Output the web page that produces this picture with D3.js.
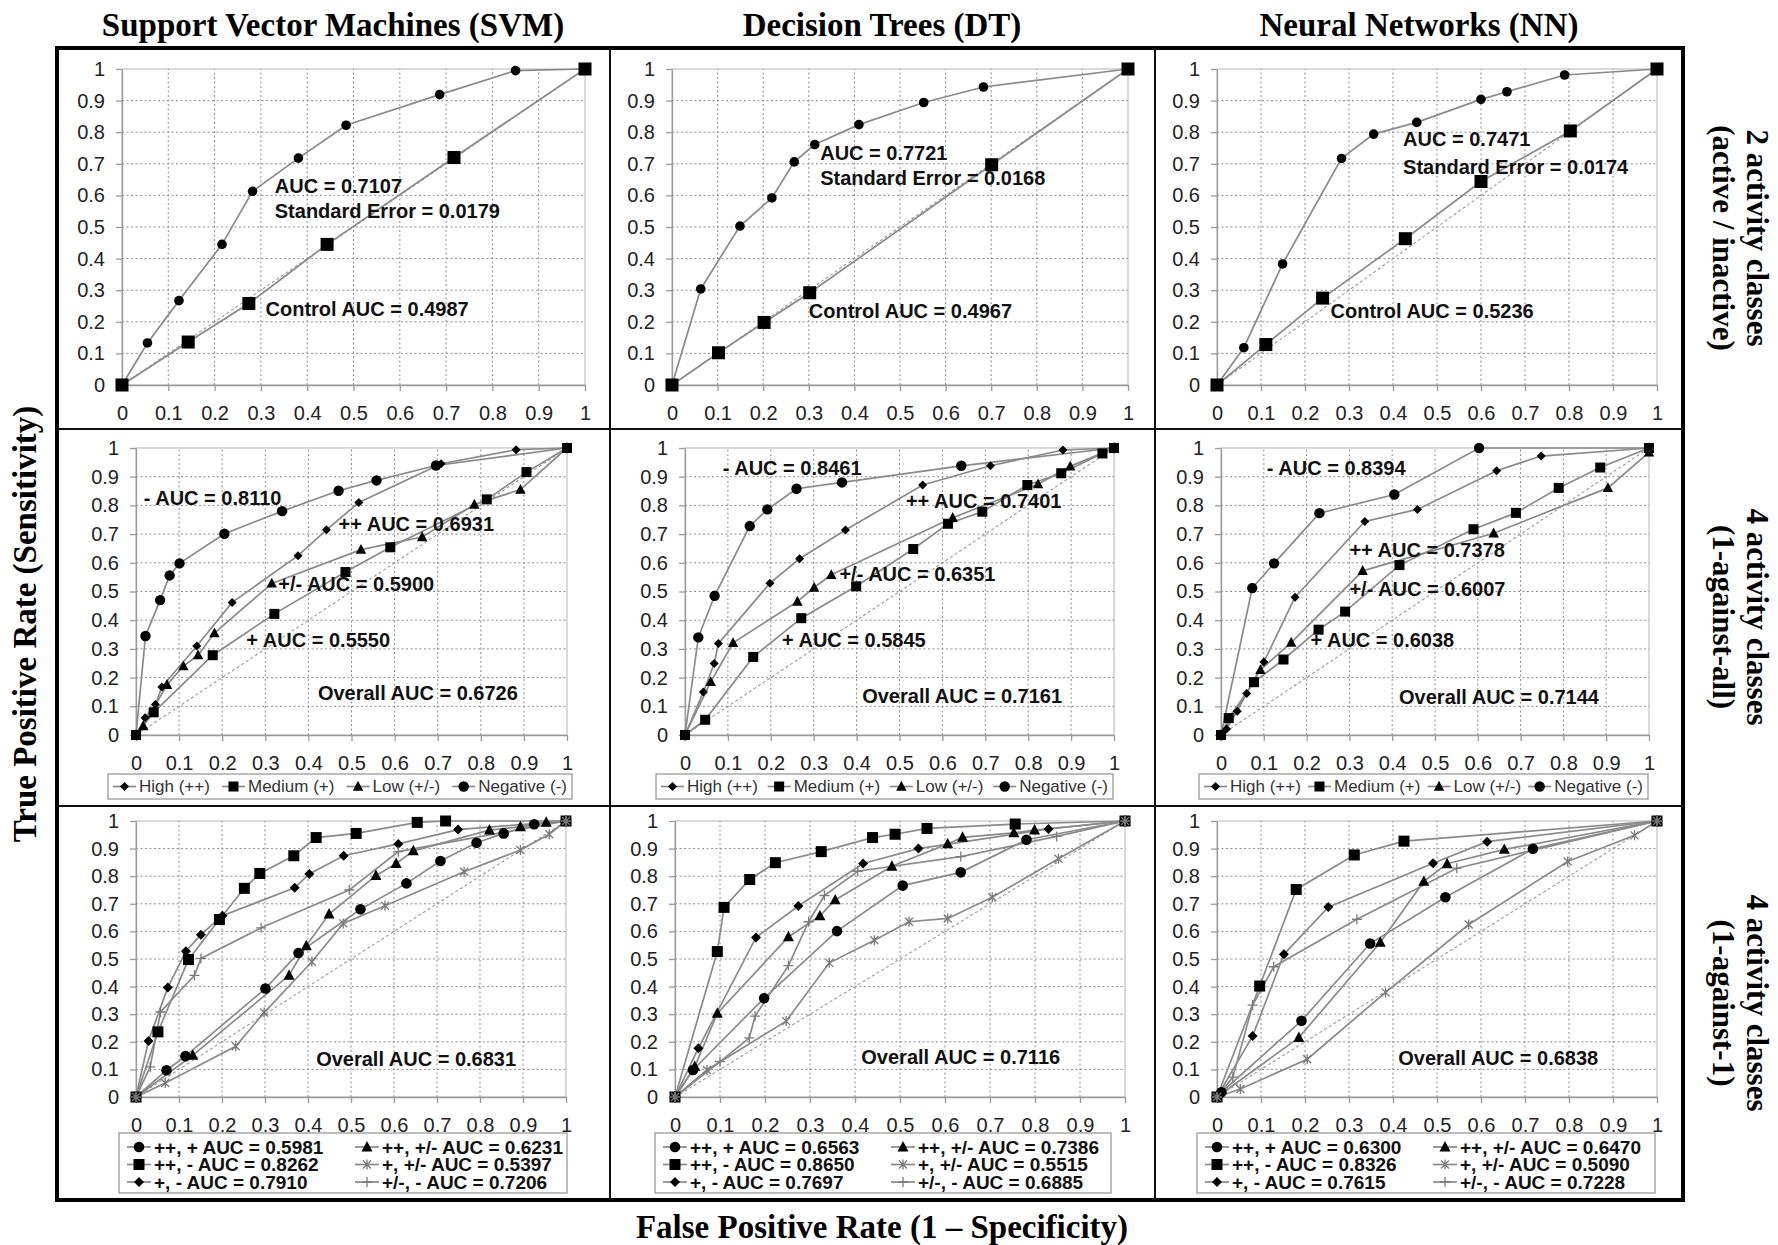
<!DOCTYPE html>
<html>
<head>
<meta charset="utf-8">
<script src="https://cdn.jsdelivr.net/npm/d3@7"></script>
<style>
  body { margin: 0; background: #fff; }
  svg text { font-family: "Liberation Sans", Arial, sans-serif; }
  .title { font-family: "Liberation Serif", "Times New Roman", serif; font-weight: bold; font-size: 33px; fill: #000; }
  .side { font-size: 31px; }
</style>
</head>
<body>
<svg id="chart" width="1778" height="1245"></svg>
<script>
// ---- text ----
const colTitles = ['Support Vector Machines (SVM)', 'Decision Trees (DT)', 'Neural Networks (NN)']
const rowTitles = [['2 activity classes', '(active / inactive)'], ['4 activity classes', '(1-against-all)'], ['4 activity classes', '(1-against-1)']]
const yTitle = 'True Positive Rate (Sensitivity)'
const xTitle = 'False Positive Rate (1 \u2013 Specificity)'
const classNames = ['High (++)', 'Medium (+)', 'Low (+/-)', 'Negative (-)']
const classShort = ['++', '+', '+/-', '-']
const pairNames = ['++, +', '++, -', '+, -', '++, +/-', '+, +/-', '+/-, -']
const tickValues = [0, 0.1, 0.2, 0.3, 0.4, 0.5, 0.6, 0.7, 0.8, 0.9, 1]

// ---- AUC values ----
const binAuc = [0.7107, 0.7721, 0.7471]
const binStdErr = [0.0179, 0.0168, 0.0174]
const binControlAuc = [0.4987, 0.4967, 0.5236]
const svmAllAuc = [0.6931, 0.5550, 0.5900, 0.8110]
const dtAllAuc = [0.7401, 0.5845, 0.6351, 0.8461]
const nnAllAuc = [0.7378, 0.6038, 0.6007, 0.8394]
const overallAllAuc = [0.6726, 0.7161, 0.7144]
const svmPairAuc = [0.5981, 0.8262, 0.7910, 0.6231, 0.5397, 0.7206]
const dtPairAuc = [0.6563, 0.8650, 0.7697, 0.7386, 0.5515, 0.6885]
const nnPairAuc = [0.6300, 0.8326, 0.7615, 0.6470, 0.5090, 0.7228]
const overallPairAuc = [0.6831, 0.7116, 0.6838]

// ---- ROC points [fpr, tpr] ----
// 2 classes
const svmBinModel = [[0, 0], [0.055, 0.133], [0.123, 0.267], [0.216, 0.445], [0.282, 0.613], [0.381, 0.718], [0.484, 0.822], [0.686, 0.919], [0.85, 0.995], [1, 1]]
const svmBinControl = [[0, 0], [0.143, 0.136], [0.274, 0.258], [0.443, 0.445], [0.717, 0.72], [1, 1]]
const dtBinModel = [[0, 0], [0.063, 0.304], [0.149, 0.503], [0.219, 0.592], [0.268, 0.706], [0.313, 0.761], [0.41, 0.824], [0.552, 0.894], [0.683, 0.943], [1, 1]]
const dtBinControl = [[0, 0], [0.102, 0.102], [0.202, 0.198], [0.302, 0.292], [0.701, 0.697], [1, 1]]
const nnBinModel = [[0, 0], [0.061, 0.118], [0.149, 0.383], [0.283, 0.717], [0.356, 0.794], [0.454, 0.831], [0.6, 0.904], [0.659, 0.928], [0.79, 0.981], [1, 1]]
const nnBinControl = [[0, 0], [0.111, 0.128], [0.24, 0.275], [0.428, 0.463], [0.6, 0.644], [0.803, 0.804], [1, 1]]

// 1-against-all
const svmAllHigh = [[0, 0], [0.021, 0.06], [0.045, 0.106], [0.06, 0.167], [0.141, 0.31], [0.223, 0.462], [0.376, 0.625], [0.442, 0.715], [0.517, 0.81], [0.708, 0.945], [0.882, 0.994], [1, 1]]
const svmAllMedium = [[0, 0], [0.041, 0.079], [0.178, 0.278], [0.321, 0.422], [0.486, 0.568], [0.59, 0.654], [0.814, 0.821], [0.906, 0.916], [1, 1]]
const svmAllLow = [[0, 0], [0.017, 0.031], [0.072, 0.175], [0.11, 0.24], [0.144, 0.278], [0.182, 0.355], [0.315, 0.528], [0.522, 0.646], [0.664, 0.69], [0.785, 0.803], [0.892, 0.855], [1, 1]]
const svmAllNegative = [[0, 0], [0.022, 0.345], [0.056, 0.47], [0.078, 0.556], [0.101, 0.598], [0.205, 0.701], [0.339, 0.78], [0.47, 0.851], [0.558, 0.887], [0.696, 0.939], [1, 1]]

const dtAllHigh = [[0, 0], [0.043, 0.15], [0.068, 0.249], [0.078, 0.319], [0.198, 0.529], [0.267, 0.614], [0.374, 0.714], [0.554, 0.871], [0.712, 0.938], [0.881, 0.993], [1, 1]]
const dtAllMedium = [[0, 0], [0.047, 0.053], [0.159, 0.272], [0.271, 0.407], [0.399, 0.518], [0.532, 0.648], [0.613, 0.736], [0.693, 0.778], [0.798, 0.871], [0.877, 0.912], [0.973, 0.981], [1, 1]]
const dtAllLow = [[0, 0], [0.06, 0.185], [0.112, 0.321], [0.262, 0.465], [0.301, 0.514], [0.341, 0.558], [0.624, 0.757], [0.823, 0.874], [0.898, 0.936], [1, 1]]
const dtAllNegative = [[0, 0], [0.031, 0.34], [0.069, 0.485], [0.151, 0.728], [0.192, 0.786], [0.26, 0.858], [0.366, 0.88], [0.644, 0.938], [1, 1]]

const nnAllHigh = [[0, 0], [0.013, 0.021], [0.038, 0.083], [0.06, 0.145], [0.1, 0.254], [0.173, 0.48], [0.336, 0.744], [0.459, 0.786], [0.644, 0.921], [0.748, 0.972], [1, 1]]
const nnAllMedium = [[0, 0], [0.018, 0.059], [0.077, 0.184], [0.146, 0.263], [0.228, 0.367], [0.29, 0.43], [0.417, 0.592], [0.59, 0.717], [0.689, 0.774], [0.789, 0.861], [0.886, 0.932], [1, 1]]
const nnAllLow = [[0, 0], [0.092, 0.227], [0.164, 0.322], [0.331, 0.572], [0.637, 0.703], [0.904, 0.861], [1, 0.985]]
const nnAllNegative = [[0, 0], [0.073, 0.512], [0.124, 0.598], [0.23, 0.773], [0.405, 0.838], [0.603, 1], [1, 1]]

// 1-against-1
const svmPairHM = [[0, 0], [0.071, 0.097], [0.115, 0.148], [0.301, 0.393], [0.378, 0.522], [0.522, 0.68], [0.629, 0.774], [0.708, 0.855], [0.792, 0.921], [0.855, 0.955], [0.926, 0.988], [1, 1]]
const svmPairHN = [[0, 0], [0.051, 0.236], [0.122, 0.498], [0.194, 0.643], [0.252, 0.756], [0.288, 0.81], [0.367, 0.874], [0.419, 0.94], [0.512, 0.955], [0.654, 0.995], [0.72, 1], [1, 1]]
const svmPairMN = [[0, 0], [0.029, 0.203], [0.074, 0.397], [0.116, 0.528], [0.151, 0.588], [0.201, 0.657], [0.369, 0.758], [0.403, 0.808], [0.483, 0.874], [0.61, 0.917], [0.749, 0.969], [1, 1]]
const svmPairHL = [[0, 0], [0.132, 0.151], [0.356, 0.441], [0.396, 0.548], [0.449, 0.663], [0.558, 0.802], [0.605, 0.846], [0.645, 0.892], [0.822, 0.967], [0.894, 0.979], [0.954, 0.995], [1, 1]]
const svmPairML = [[0, 0], [0.068, 0.051], [0.232, 0.184], [0.298, 0.306], [0.409, 0.49], [0.482, 0.629], [0.579, 0.693], [0.763, 0.816], [0.894, 0.895], [0.961, 0.952], [1, 1]]
const svmPairLN = [[0, 0], [0.033, 0.109], [0.057, 0.308], [0.136, 0.441], [0.151, 0.502], [0.291, 0.613], [0.496, 0.75], [0.61, 0.889], [1, 1]]

const dtPairHM = [[0, 0], [0.04, 0.098], [0.198, 0.358], [0.36, 0.601], [0.506, 0.766], [0.635, 0.814], [0.781, 0.932], [1, 1]]
const dtPairHN = [[0, 0], [0.094, 0.527], [0.109, 0.687], [0.166, 0.788], [0.223, 0.849], [0.325, 0.889], [0.439, 0.94], [0.489, 0.952], [0.56, 0.973], [0.756, 0.989], [1, 1]]
const dtPairMN = [[0, 0], [0.052, 0.177], [0.18, 0.578], [0.274, 0.692], [0.418, 0.846], [0.541, 0.9], [0.83, 0.971], [1, 1]]
const dtPairHL = [[0, 0], [0.044, 0.11], [0.094, 0.303], [0.252, 0.58], [0.322, 0.656], [0.356, 0.714], [0.482, 0.836], [0.606, 0.917], [0.639, 0.941], [0.753, 0.957], [0.799, 0.967], [1, 1]]
const dtPairML = [[0, 0], [0.071, 0.098], [0.247, 0.275], [0.343, 0.486], [0.443, 0.568], [0.52, 0.635], [0.606, 0.647], [0.705, 0.724], [0.852, 0.863], [1, 1]]
const dtPairLN = [[0, 0], [0.1, 0.128], [0.165, 0.214], [0.178, 0.293], [0.252, 0.476], [0.297, 0.635], [0.332, 0.73], [0.406, 0.818], [0.635, 0.871], [0.848, 0.944], [1, 1]]

const nnPairHM = [[0, 0], [0.01, 0.017], [0.192, 0.276], [0.348, 0.556], [0.519, 0.724], [0.718, 0.899], [1, 1]]
const nnPairHN = [[0, 0], [0.097, 0.402], [0.18, 0.752], [0.312, 0.877], [0.425, 0.927], [1, 1]]
const nnPairMN = [[0, 0], [0.081, 0.221], [0.152, 0.517], [0.253, 0.688], [0.491, 0.847], [0.614, 0.925], [1, 1]]
const nnPairHL = [[0, 0], [0.186, 0.215], [0.371, 0.56], [0.47, 0.781], [0.523, 0.845], [0.653, 0.897], [1, 1]]
const nnPairML = [[0, 0], [0.053, 0.029], [0.205, 0.137], [0.383, 0.379], [0.572, 0.625], [0.797, 0.853], [0.949, 0.948], [1, 1]]
const nnPairLN = [[0, 0], [0.036, 0.072], [0.081, 0.333], [0.129, 0.472], [0.318, 0.644], [0.545, 0.829], [1, 1]]

// ---- layout ----
let svg = d3.select('#chart')
const lineGrey = '#8a8a8a'
const fmt = v => v.toFixed(4)
const classMarks = ['diamond', 'square', 'triangle', 'circle']
const pairMarks = ['circle', 'square', 'diamond', 'triangle', 'star', 'plus']

// plot boxes in pixels: rows [top, bottom], cols [left, right]
const rowY = [[69, 385], [448, 735], [821, 1097]]
const colX = [[[122, 585], [672, 1128], [1217, 1657]],
              [[136, 567], [685, 1114], [1221, 1649]],
              [[136, 566], [675, 1125], [1217, 1657]]]
const legendBox = [null,
  [[108, 774, 464, 25], [656, 774, 457, 25], [1199, 774, 449, 25]],
  [[119, 1133, 448, 60], [655, 1133, 456, 60], [1197, 1133, 458, 60]]]

// annotation anchors in data units [fpr, tpr]
const binNoteAt = [[[0.33, 0.63], [0.33, 0.55], [0.31, 0.239]],
                   [[0.325, 0.735], [0.325, 0.655], [0.30, 0.235]],
                   [[0.423, 0.78], [0.423, 0.69], [0.258, 0.235]]]
const allNoteAt = [[[0.47, 0.736], [0.256, 0.33], [0.33, 0.525], [0.018, 0.826], [0.422, 0.146]],
                   [[0.515, 0.815], [0.226, 0.33], [0.36, 0.562], [0.088, 0.932], [0.413, 0.136]],
                   [[0.30, 0.646], [0.209, 0.33], [0.30, 0.51], [0.107, 0.93], [0.416, 0.133]]]
const pairNoteAt = [[0.419, 0.139], [0.414, 0.144], [0.412, 0.141]]

function drawMark(g, type, cx, cy, s) {
  let m
  if (type === 'circle') {
    m = g.append('circle').attr('cx', cx).attr('cy', cy).attr('r', s)
  } else if (type === 'square') {
    m = g.append('rect').attr('x', cx - s).attr('y', cy - s).attr('width', 2 * s).attr('height', 2 * s)
  } else if (type === 'diamond') {
    m = g.append('path').attr('d', `M${cx},${cy - s}L${cx + s},${cy}L${cx},${cy + s}L${cx - s},${cy}Z`)
  } else if (type === 'triangle') {
    m = g.append('path').attr('d', `M${cx},${cy - s * 1.1}L${cx + s},${cy + s * 0.8}L${cx - s},${cy + s * 0.8}Z`)
  } else if (type === 'star') {
    let d = s * 0.8
    return g.append('path')
      .attr('d', `M${cx - d},${cy - d}L${cx + d},${cy + d}M${cx - d},${cy + d}L${cx + d},${cy - d}M${cx},${cy - s}L${cx},${cy + s}`)
      .attr('stroke', '#7a7a7a').attr('stroke-width', 1.3).attr('fill', 'none')
  } else {
    return g.append('path')
      .attr('d', `M${cx - s},${cy}L${cx + s},${cy}M${cx},${cy - s}L${cx},${cy + s}`)
      .attr('stroke', '#7a7a7a').attr('stroke-width', 1.3).attr('fill', 'none')
  }
  return m.attr('fill', '#000')
}

const markSize = {
  0: { circle: 4.8, square: 6.5 },
  1: { circle: 5.2, square: 5, diamond: 4.5, triangle: 5.2 },
  2: { circle: 5.3, square: 5.5, diamond: 5, triangle: 5.5, star: 5, plus: 5 }
}

function drawPanel(row, col, series, notes) {
  let [x0, x1] = colX[row][col], [y1, y0] = rowY[row]
  let x = d3.scaleLinear().domain([0, 1]).range([x0, x1])
  let y = d3.scaleLinear().domain([0, 1]).range([y0, y1])
  let g = svg.append('g')

  // frame of plot area
  g.append('rect')
    .attr('x', x0).attr('y', y1).attr('width', x1 - x0).attr('height', y0 - y1)
    .attr('fill', 'none').attr('stroke', '#c2c2c2').attr('stroke-width', 1.2)

  // dotted grid
  let inner = tickValues.slice(1, 10)
  g.selectAll('.vgrid').data(inner).enter().append('line')
    .attr('x1', d => x(d)).attr('x2', d => x(d)).attr('y1', y0).attr('y2', y1)
    .attr('stroke', '#8c8c8c').attr('stroke-dasharray', '2,2.5')
  g.selectAll('.hgrid').data(inner).enter().append('line')
    .attr('y1', d => y(d)).attr('y2', d => y(d)).attr('x1', x0).attr('x2', x1)
    .attr('stroke', '#8c8c8c').attr('stroke-dasharray', '2,2.5')

  // axes
  let xa = g.append('g').attr('transform', `translate(0,${y0})`)
    .call(d3.axisBottom(x).tickValues(tickValues).tickFormat(d => d).tickSize(6).tickSizeOuter(0).tickPadding(15))
  let ya = g.append('g').attr('transform', `translate(${x0},0)`)
    .call(d3.axisLeft(y).tickValues(tickValues).tickFormat(d => d).tickSize(6).tickSizeOuter(0).tickPadding(11))
  ;[xa, ya].forEach(a => {
    a.selectAll('path, line').attr('stroke', '#9a9a9a').attr('stroke-width', 1.3)
    a.selectAll('text').attr('font-size', 20).attr('fill', '#222').attr('font-family', '"Liberation Sans", Arial, sans-serif')
  })

  // chance diagonal
  g.append('line')
    .attr('x1', x(0)).attr('y1', y(0)).attr('x2', x(1)).attr('y2', y(1))
    .attr('stroke', '#999').attr('stroke-dasharray', '3,2.5').attr('stroke-width', 1.1)

  let line = d3.line().x(d => x(d[0])).y(d => y(d[1]))
  series.forEach(s => {
    g.append('path').datum(s.pts).attr('d', line)
      .attr('fill', 'none').attr('stroke', lineGrey).attr('stroke-width', 1.7)
  })
  series.forEach(s => {
    s.pts.forEach(p => drawMark(g, s.mark, x(p[0]), y(p[1]), markSize[row][s.mark]))
  })

  notes.forEach(n => {
    g.append('text')
      .attr('x', x(n.at[0])).attr('y', y(n.at[1]))
      .attr('dominant-baseline', 'central')
      .attr('font-size', 20).attr('font-weight', 'bold').attr('fill', '#111')
      .text(n.text)
  })
  return g
}

function drawClassLegend(col) {
  let [bx, by, bw, bh] = legendBox[1][col]
  let g = svg.append('g')
  g.append('rect').attr('x', bx).attr('y', by).attr('width', bw).attr('height', bh)
    .attr('fill', '#fff').attr('stroke', '#9a9a9a').attr('stroke-width', 1.3)
  let cy = by + bh / 2
  // measure labels first, then spread the items across the box
  let texts = classNames.map(name => g.append('text').attr('y', cy)
    .attr('dominant-baseline', 'central').attr('font-size', 17).attr('fill', '#333').text(name))
  let widths = texts.map(t => t.node().getComputedTextLength())
  let gap = (bw - 10 - d3.sum(widths) - 4 * 26) / 3
  let cursor = bx + 5
  texts.forEach((t, i) => {
    g.append('line').attr('x1', cursor).attr('x2', cursor + 23).attr('y1', cy).attr('y2', cy)
      .attr('stroke', lineGrey).attr('stroke-width', 1.7)
    drawMark(g, classMarks[i], cursor + 11.5, cy, markSize[1][classMarks[i]])
    t.attr('x', cursor + 26).raise()
    cursor += 26 + widths[i] + gap
  })
}

function drawPairLegend(col, auc) {
  let [bx, by, bw, bh] = legendBox[2][col]
  let g = svg.append('g')
  g.append('rect').attr('x', bx).attr('y', by).attr('width', bw).attr('height', bh)
    .attr('fill', '#fff').attr('stroke', '#9a9a9a').attr('stroke-width', 1.3)
  pairNames.forEach((name, i) => {
    let c = Math.floor(i / 3), r = i % 3
    let lx = bx + (c === 0 ? 8 : 236), cy = by + 14 + r * 17.5
    g.append('line').attr('x1', lx).attr('x2', lx + 24).attr('y1', cy).attr('y2', cy)
      .attr('stroke', lineGrey).attr('stroke-width', 1.7)
    drawMark(g, pairMarks[i], lx + 12, cy, markSize[2][pairMarks[i]])
    g.append('text').attr('x', lx + 27).attr('y', cy)
      .attr('dominant-baseline', 'central').attr('font-size', 19).attr('font-weight', 'bold').attr('fill', '#111')
      .text(`${name} AUC = ${fmt(auc[i])}`)
  })
}

// ---- row 1: 2 classes ----
const binModels = [svmBinModel, dtBinModel, nnBinModel]
const binControls = [svmBinControl, dtBinControl, nnBinControl]
binModels.forEach((m, c) => {
  drawPanel(0, c,
    [{ pts: binControls[c], mark: 'square' }, { pts: m, mark: 'circle' }],
    [{ text: `AUC = ${fmt(binAuc[c])}`, at: binNoteAt[c][0] },
     { text: `Standard Error = ${fmt(binStdErr[c])}`, at: binNoteAt[c][1] },
     { text: `Control AUC = ${fmt(binControlAuc[c])}`, at: binNoteAt[c][2] }])
})

// ---- row 2: 1-against-all ----
const allSeries = [[svmAllHigh, svmAllMedium, svmAllLow, svmAllNegative],
                   [dtAllHigh, dtAllMedium, dtAllLow, dtAllNegative],
                   [nnAllHigh, nnAllMedium, nnAllLow, nnAllNegative]]
const allAuc = [svmAllAuc, dtAllAuc, nnAllAuc]
allSeries.forEach((set, c) => {
  let notes = classShort.map((k, i) => ({ text: `${k} AUC = ${fmt(allAuc[c][i])}`, at: allNoteAt[c][i] }))
  notes.push({ text: `Overall AUC = ${fmt(overallAllAuc[c])}`, at: allNoteAt[c][4] })
  drawPanel(1, c, set.map((pts, i) => ({ pts, mark: classMarks[i] })), notes)
  drawClassLegend(c)
})

// ---- row 3: 1-against-1 ----
const pairSeries = [[svmPairHM, svmPairHN, svmPairMN, svmPairHL, svmPairML, svmPairLN],
                    [dtPairHM, dtPairHN, dtPairMN, dtPairHL, dtPairML, dtPairLN],
                    [nnPairHM, nnPairHN, nnPairMN, nnPairHL, nnPairML, nnPairLN]]
const pairAuc = [svmPairAuc, dtPairAuc, nnPairAuc]
pairSeries.forEach((set, c) => {
  drawPanel(2, c, set.map((pts, i) => ({ pts, mark: pairMarks[i] })),
    [{ text: `Overall AUC = ${fmt(overallPairAuc[c])}`, at: pairNoteAt[c] }])
  drawPairLegend(c, pairAuc[c])
})

// ---- outer frame and separators ----
svg.append('rect').attr('x', 57).attr('y', 48).attr('width', 1626).attr('height', 1152)
  .attr('fill', 'none').attr('stroke', '#000').attr('stroke-width', 4)
;[610, 1155].forEach(v => svg.append('line').attr('x1', v).attr('x2', v).attr('y1', 48).attr('y2', 1200)
  .attr('stroke', '#111').attr('stroke-width', 2))
;[429, 806].forEach(v => svg.append('line').attr('y1', v).attr('y2', v).attr('x1', 57).attr('x2', 1683)
  .attr('stroke', '#111').attr('stroke-width', 2))

// ---- titles ----
const colCenters = [333, 882, 1419]
colTitles.forEach((t, i) => {
  svg.append('text').attr('class', 'title').attr('x', colCenters[i]).attr('y', 25)
    .attr('text-anchor', 'middle').attr('dominant-baseline', 'central').text(t)
})
svg.append('text').attr('class', 'title')
  .attr('transform', 'translate(25,624) rotate(-90)')
  .attr('text-anchor', 'middle').attr('dominant-baseline', 'central').text(yTitle)
svg.append('text').attr('class', 'title').attr('x', 882).attr('y', 1227)
  .attr('text-anchor', 'middle').attr('dominant-baseline', 'central').text(xTitle)

const rowCenters = [238, 617, 1003]
rowTitles.forEach((lines, i) => {
  svg.append('text').attr('class', 'title side')
    .attr('transform', `translate(1757,${rowCenters[i]}) rotate(90)`)
    .attr('text-anchor', 'middle').attr('dominant-baseline', 'central').text(lines[0])
  svg.append('text').attr('class', 'title side')
    .attr('transform', `translate(1723,${rowCenters[i]}) rotate(90)`)
    .attr('text-anchor', 'middle').attr('dominant-baseline', 'central').text(lines[1])
})
</script>
</body>
</html>
